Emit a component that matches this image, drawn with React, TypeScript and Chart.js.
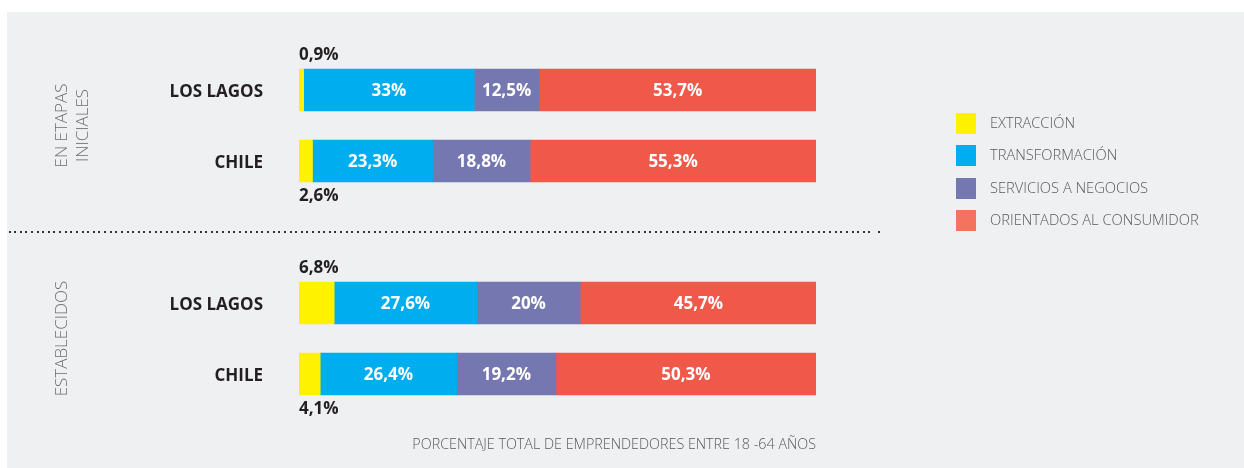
import React, { useEffect, useRef } from 'react';
import { Chart, registerables } from 'chart.js';

Chart.register(...registerables);

const rowLabels = ['LOS LAGOS', 'CHILE', '', 'LOS LAGOS', 'CHILE'];
const seriesNames = ['EXTRACCIÓN', 'TRANSFORMACIÓN', 'SERVICIOS A NEGOCIOS', 'ORIENTADOS AL CONSUMIDOR'];
const extraccion = [0.9, 2.6, null, 6.8, 4.1];
const transformacion = [33, 23.3, null, 27.6, 26.4];
const servicios = [12.5, 18.8, null, 20, 19.2];
const consumidor = [53.7, 55.3, null, 45.7, 50.3];
const groupLabels = [['EN ETAPAS', 'INICIALES'], ['ESTABLECIDOS']];
const groupRows = [[0, 1], [3, 4]];
const footnote = 'PORCENTAJE TOTAL DE EMPRENDEDORES ENTRE 18 -64 AÑOS';

const barColors = ['#fff200', '#00aeef', '#7577b0', '#f0584a'];
const legendColors = ['#fff200', '#00aeef', '#7577b0', '#f3735f'];

const fmt = (v: number) => String(v).replace('.', ',') + '%';

const decorPlugin = {
  id: 'decor',
  beforeDraw(chart: any) {
    const { ctx, width, height } = chart;
    ctx.save();
    ctx.fillStyle = '#ffffff';
    ctx.fillRect(0, 0, width, height);
    ctx.fillStyle = '#eff0f2';
    ctx.fillRect(7, 12, width - 7, height - 12);
    ctx.restore();
  },
  afterDatasetsDraw(chart: any) {
    const { ctx, chartArea } = chart;
    const yScale = chart.scales.y;
    ctx.save();
    // value labels
    chart.data.datasets.forEach((ds: any, di: number) => {
      const meta = chart.getDatasetMeta(di);
      meta.data.forEach((el: any, i: number) => {
        const v = ds.data[i];
        if (v == null) return;
        const top = el.y - el.height / 2;
        const bottom = el.y + el.height / 2;
        ctx.font = 'bold 17px "Open Sans", sans-serif';
        if (di === 0) {
          ctx.fillStyle = '#231f20';
          ctx.textAlign = 'left';
          ctx.textBaseline = 'alphabetic';
          const isTop = i === 0 || i === 3;
          ctx.fillText(fmt(v), Math.min(el.base, el.x), isTop ? top - 9 : bottom + 19);
        } else {
          ctx.fillStyle = '#ffffff';
          ctx.textAlign = 'center';
          ctx.textBaseline = 'middle';
          ctx.fillText(fmt(v), (el.x + el.base) / 2, el.y + 1);
        }
      });
    });

    // dotted separator
    const sepY = yScale.getPixelForValue(2);
    ctx.fillStyle = '#333333';
    for (let x = 8.5; x <= chartArea.right + 57; x += 5.62) {
      ctx.fillRect(Math.round(x), Math.round(sepY) - 1, 2, 2);
    }
    ctx.fillRect(chartArea.right + 62, Math.round(sepY) - 1, 2, 2);

    // group labels (rotated)
    ctx.fillStyle = '#6d6e71';
    ctx.font = '300 17px "Open Sans", sans-serif';
    ctx.textAlign = 'center';
    ctx.textBaseline = 'alphabetic';
    groupLabels.forEach((lines, gi) => {
      const [a, b] = groupRows[gi];
      const cy = (yScale.getPixelForValue(a) + yScale.getPixelForValue(b)) / 2;
      lines.forEach((line, li) => {
        ctx.save();
        ctx.translate(67 + li * 21, cy);
        ctx.rotate(-Math.PI / 2);
        ctx.fillText(line, 0, 0);
        ctx.restore();
      });
    });

    // legend
    ctx.font = '300 14.7px "Open Sans", sans-serif';
    ctx.textAlign = 'left';
    ctx.textBaseline = 'middle';
    seriesNames.forEach((name, i) => {
      const y0 = 113 + i * 32.4;
      ctx.fillStyle = legendColors[i];
      ctx.fillRect(956, Math.round(y0), 20, 21);
      ctx.fillStyle = '#58595b';
      ctx.fillText(name, 990, Math.round(y0) + 11);
    });

    // footnote
    ctx.fillStyle = '#58595b';
    ctx.font = '300 14.3px "Open Sans", sans-serif';
    ctx.textAlign = 'right';
    ctx.textBaseline = 'alphabetic';
    ctx.fillText(footnote, chartArea.right, 449);
    ctx.restore();
  },
};

export default function App() {
  const ref = useRef<HTMLCanvasElement | null>(null);
  useEffect(() => {
    document.body.style.margin = '0';
    const canvas = ref.current;
    if (!canvas) return;
    const series = [extraccion, transformacion, servicios, consumidor];
    const chart = new Chart(canvas, {
      type: 'bar',
      data: {
        labels: rowLabels,
        datasets: series.map((d, i) => ({
          label: seriesNames[i],
          data: d as any,
          backgroundColor: barColors[i],
          borderWidth: 0,
          barThickness: 42,
        })),
      },
      options: {
        indexAxis: 'y',
        responsive: false,
        animation: false,
        layout: { padding: { left: 0, right: 428, top: 54.5, bottom: 58.5 } },
        plugins: {
          legend: { display: false },
          tooltip: { enabled: false },
        },
        scales: {
          x: {
            stacked: true,
            min: 0,
            max: 100,
            display: false,
          },
          y: {
            stacked: true,
            grid: { display: false, drawTicks: false },
            border: { display: false },
            ticks: {
              padding: 36,
              labelOffset: 2,
              color: '#231f20',
              font: { family: '"Open Sans", sans-serif', size: 17, weight: 'bold' },
            },
            afterFit(scale: any) {
              scale.width = 299;
            },
          },
        },
      },
      plugins: [decorPlugin],
    });
    return () => chart.destroy();
  }, []);
  return (
    <div style={{ width: 1244, height: 468 }}>
      <canvas ref={ref} width={1244} height={468} style={{ display: 'block' }} />
    </div>
  );
}
